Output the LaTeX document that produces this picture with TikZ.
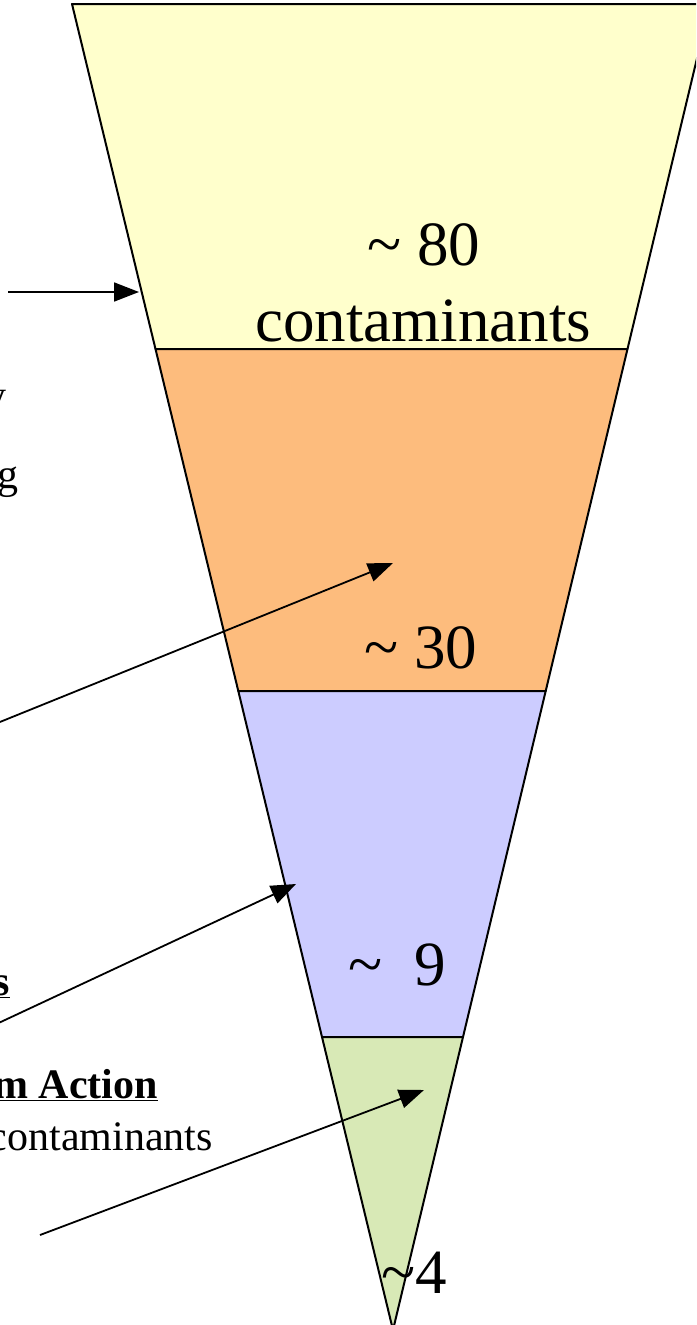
\documentclass[tikz,border=0pt]{standalone}
\usepackage{fontspec}
\setmainfont{Liberation Serif}
\usetikzlibrary{arrows.meta}

\definecolor{tierone}{HTML}{FFFFCC}
\definecolor{tiertwo}{HTML}{FDBC7D}
\definecolor{tierthree}{HTML}{CCCCFF}
\definecolor{tierfour}{HTML}{D8E9B6}

\tikzset{
  band/.style={draw=black, line width=2pt, line join=round},
  pointer/.style={line width=1.8pt, -{Triangle[length=25pt,width=19pt]}},
  count/.style={inner sep=0pt, anchor=base, font=\fontsize{63}{76}\selectfont},
  side/.style={inner sep=0pt, anchor=base east, font=\fontsize{42}{50}\selectfont},
}

\begin{document}
\begin{tikzpicture}[x=1pt,y=-1pt]
        \useasboundingbox (0,0) rectangle (696,1325);
        \clip (0,0) rectangle (696,1325);

        % Funnel corners
        \coordinate (topL) at (72,4);
        \coordinate (topR) at (710,4);
        \coordinate (aL) at (155.5,349);
        \coordinate (aR) at (627.5,349);
        \coordinate (bL) at (238.3,691);
        \coordinate (bR) at (545.7,691);
        \coordinate (cL) at (322,1037);
        \coordinate (cR) at (463,1037);
        \coordinate (apex) at (393,1330);

        % Funnel bands
        \draw[band, fill=tierone] (topL) -- (topR) -- (aR) -- (aL) -- cycle;
        \draw[band, fill=tiertwo] (aL) -- (aR) -- (bR) -- (bL) -- cycle;
        \draw[band, fill=tierthree] (bL) -- (bR) -- (cR) -- (cL) -- cycle;
        \draw[band, fill=tierfour] (cL) -- (cR) -- (apex) -- cycle;

        % Counts
        \node[count] (n80) at (424,265) {\textasciitilde\ 80};
        \node[count] (ncont) at (423,341) {contaminants};
        \node[count] (n30) at (421,668) {\textasciitilde\ 30};
        \node[count] (n9) at (397,985) {\textasciitilde\ \ 9};
        \node[count] (n4) at (414,1293) {\textasciitilde4};

        % Cut-off text on the left
        \node[side] (ty) at (7,409) {y};
        \node[side] (tg) at (19,488) {g};
        \node[side] (ts) at (10,995) {\underline{\textbf{s}}};
        \node[side] (taction) at (158,1098) {\underline{\textbf{m Action}}};
        \node[side] (tcont) at (213,1150) {contaminants};

        % Arrows
        \coordinate (p1) at (8,292);
        \coordinate (q1) at (139,292);
        \coordinate (p2) at (-10,726);
        \coordinate (q2) at (393,563);
        \coordinate (p3) at (-10,1027);
        \coordinate (q3) at (296,884);
        \coordinate (p4) at (40,1235);
        \coordinate (q4) at (424,1090);
        \draw[pointer] (p1) -- (q1);
        \draw[pointer] (p2) -- (q2);
        \draw[pointer] (p3) -- (q3);
        \draw[pointer] (p4) -- (q4);
    \end{tikzpicture}
\end{document}
